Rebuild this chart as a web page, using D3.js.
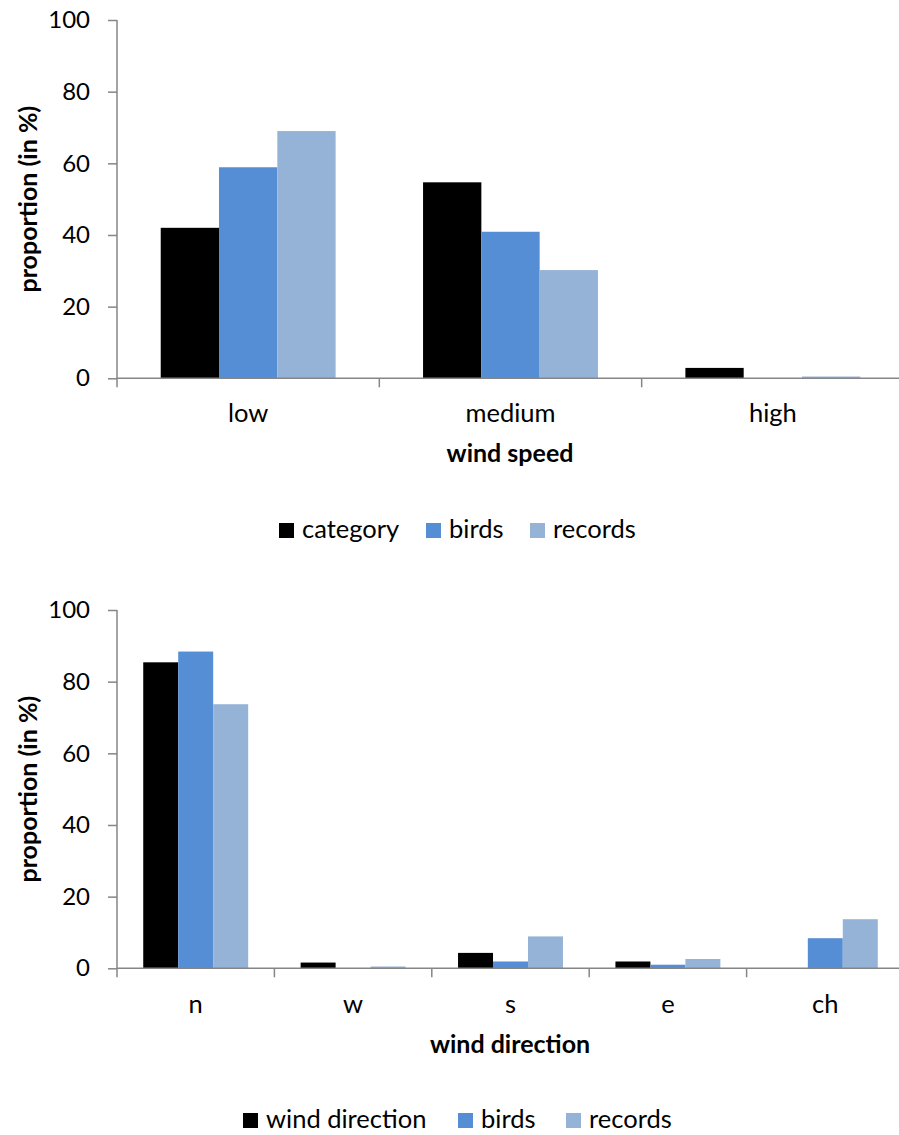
<!DOCTYPE html>
<html><head><meta charset="utf-8">
<script src="https://cdn.jsdelivr.net/npm/d3@7"></script>
<style>body{margin:0;background:#fff}svg{display:block}text{font-family:Lato,"Open Sans",sans-serif;fill:#000}</style>
</head><body>
<script>
const seriesColors = ["#000000", "#558ED5", "#95B3D7"];
const yTicks = [0, 20, 40, 60, 80, 100];

const speedCategories = ["low", "medium", "high"];
const speedSeries = ["category", "birds", "records"];
const speedCategoryValues = [42.0, 54.7, 2.9];
const speedBirdsValues = [58.9, 40.9, 0];
const speedRecordsValues = [69.0, 30.2, 0.5];

const dirCategories = ["n", "w", "s", "e", "ch"];
const dirSeries = ["wind direction", "birds", "records"];
const dirCategoryValues = [85.4, 1.6, 4.3, 1.9, 0];
const dirBirdsValues = [88.4, 0, 1.9, 1.0, 8.4];
const dirRecordsValues = [73.7, 0.5, 8.9, 2.6, 13.7];

const W = 899, H = 1135;
const svg = d3.select("body").append("svg").attr("width", W).attr("height", H);
const FS = 25.5;
const FSB = 25;

function drawChart(cfg) {
  const g = svg.append("g");
  const x = d3.scaleBand().domain(cfg.categories).range([117, 904]).paddingInner(0).paddingOuter(0);
  const y = d3.scaleLinear().domain([0, 100]).range([cfg.y0, cfg.y100]);
  const series = [cfg.s0, cfg.s1, cfg.s2];
  const barW = x.bandwidth() / 4.5;
  const gap = barW * 0.75;

  series.forEach((vals, si) => {
    g.selectAll(null).data(cfg.categories).enter().append("rect")
      .attr("x", c => x(c) + gap + si * barW)
      .attr("width", barW)
      .attr("y", (c, i) => y(vals[i]))
      .attr("height", (c, i) => y(0) - y(vals[i]))
      .attr("fill", seriesColors[si]);
  });

  const ya = g.append("g").attr("transform", "translate(117,0)")
    .call(d3.axisLeft(y).tickValues(yTicks).tickSize(9).tickPadding(18).tickFormat(d3.format("d")));
  ya.select(".domain").attr("stroke", "#868686").attr("stroke-width", 1.5).attr("d", `M0,${y(0)}V${y(100)}`);
  ya.selectAll(".tick line").attr("stroke", "#868686").attr("stroke-width", 1.5);
  ya.selectAll(".tick text").attr("font-size", FS - 1.5).attr("font-family", "Lato").attr("fill", "#000");

  const xa = g.append("g").attr("transform", `translate(0,${y(0)})`)
    .call(d3.axisBottom(x).tickSize(0).tickPadding(0));
  xa.select(".domain").attr("stroke", "#868686").attr("stroke-width", 1.5).attr("d", `M117,0H904`);
  xa.selectAll(".tick text").remove();
  const bounds = cfg.categories.map(c => x(c)).concat([x.range()[1]]);
  xa.selectAll(".bt").data(bounds).enter().append("line")
    .attr("x1", d => d).attr("x2", d => d).attr("y1", 0).attr("y2", 9)
    .attr("stroke", "#868686").attr("stroke-width", 1.5);
  g.selectAll(".cl").data(cfg.categories).enter().append("text")
    .attr("x", c => x(c) + x.bandwidth() / 2).attr("y", cfg.catBase)
    .attr("text-anchor", "middle").attr("font-size", FS).text(c => c);

  g.append("text").attr("x", 510).attr("y", cfg.xTitleBase).attr("text-anchor", "middle")
    .attr("font-size", FSB).attr("font-weight", "bold").text(cfg.xTitle);
  g.append("text").attr("transform", `translate(37,${(y(0) + y(100)) / 2}) rotate(-90)`)
    .attr("text-anchor", "middle").attr("font-size", FSB).attr("font-weight", "bold")
    .text("proportion (in %)");

  const lg = g.append("g");
  cfg.legendX.forEach((lx, i) => {
    lg.append("rect").attr("x", lx).attr("y", cfg.legendBase - 15).attr("width", 15).attr("height", 15)
      .attr("fill", seriesColors[i]);
    lg.append("text").attr("x", lx + 23).attr("y", cfg.legendBase).attr("font-size", FS).text(cfg.seriesNames[i]);
  });
}

drawChart({
  categories: speedCategories, s0: speedCategoryValues, s1: speedBirdsValues, s2: speedRecordsValues,
  y0: 378.3, y100: 20, catBase: 422, xTitleBase: 462, xTitle: "wind speed",
  seriesNames: speedSeries, legendX: [279, 426, 530], legendBase: 538
});
drawChart({
  categories: dirCategories, s0: dirCategoryValues, s1: dirBirdsValues, s2: dirRecordsValues,
  y0: 968.3, y100: 610, catBase: 1013, xTitleBase: 1053, xTitle: "wind direction",
  seriesNames: dirSeries, legendX: [243, 458, 566], legendBase: 1128
});
</script>
</body></html>
